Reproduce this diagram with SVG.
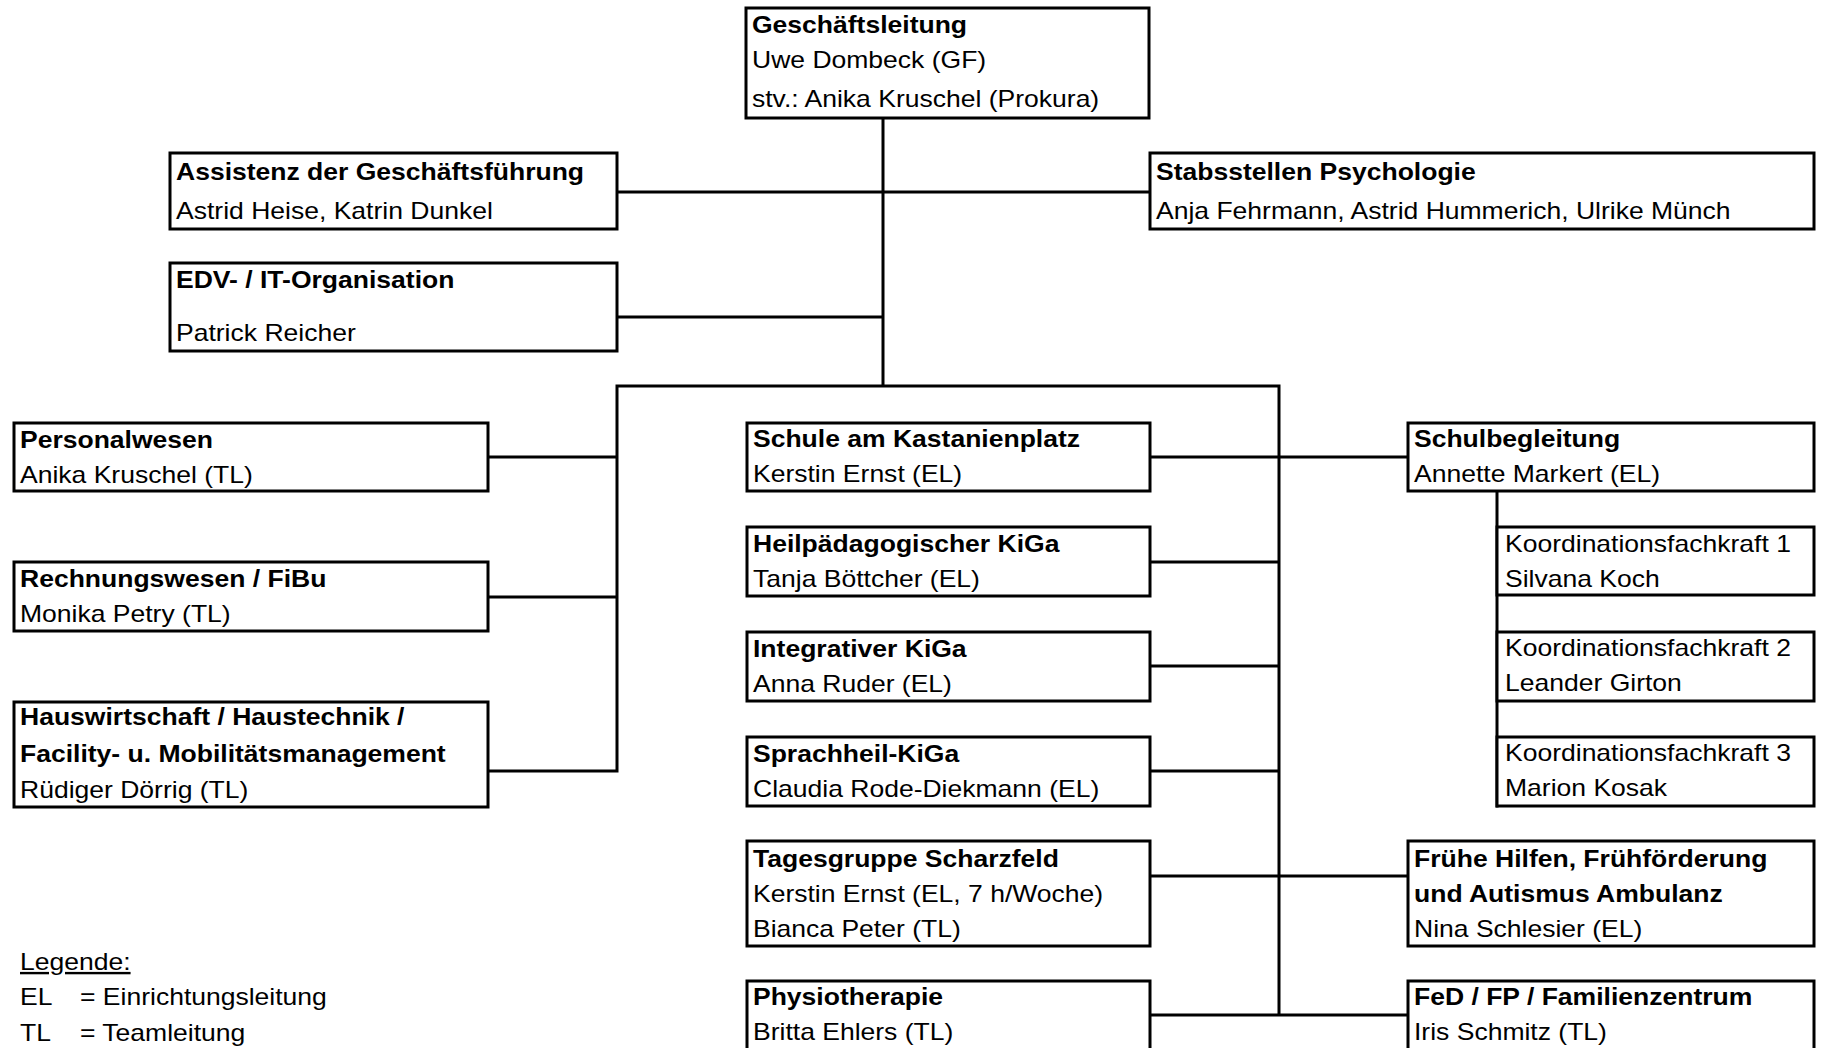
<svg xmlns="http://www.w3.org/2000/svg" width="1823" height="1048" viewBox="0 0 1823 1048">
<style>
.box{fill:#fff;stroke:#000;stroke-width:3}
.ln{stroke:#000;stroke-width:3;fill:none;stroke-linecap:square}
text{font-family:"Liberation Sans",Arial,sans-serif;font-size:24px;fill:#000}
.b{font-weight:bold}
.u{text-decoration:underline}
</style>
<rect width="1823" height="1048" fill="#fff"/>
<g id="connectors">
<path class="ln" d="M883 118V386M617 192H1150M617 317H883M617 386H1279M617 386V771M488 457H617M488 597H617M488 771H617M1279 386V1015M1150 457H1408M1150 562H1279M1150 666H1279M1150 771H1279M1150 876H1408M1150 1015H1408M1497 491V806"/>
</g>
<g id="n-gl"><rect class="box" x="746" y="8" width="403" height="110"/>
<text class="b" transform="matrix(1.105 0 0 1 752 33)">Geschäftsleitung</text>
<text transform="matrix(1.105 0 0 1 752 68)">Uwe Dombeck (GF)</text>
<text transform="matrix(1.105 0 0 1 752 107)">stv.: Anika Kruschel (Prokura)</text></g>
<g id="n-assist"><rect class="box" x="170" y="153" width="447" height="76"/>
<text class="b" transform="matrix(1.105 0 0 1 176 180)">Assistenz der Geschäftsführung</text>
<text transform="matrix(1.105 0 0 1 176 219)">Astrid Heise, Katrin Dunkel</text></g>
<g id="n-stabs"><rect class="box" x="1150" y="153" width="664" height="76"/>
<text class="b" transform="matrix(1.105 0 0 1 1156 180)">Stabsstellen Psychologie</text>
<text transform="matrix(1.105 0 0 1 1156 219)">Anja Fehrmann, Astrid Hummerich, Ulrike Münch</text></g>
<g id="n-edv"><rect class="box" x="170" y="263" width="447" height="88"/>
<text class="b" transform="matrix(1.105 0 0 1 176 288)">EDV- / IT-Organisation</text>
<text transform="matrix(1.105 0 0 1 176 341)">Patrick Reicher</text></g>
<g id="n-personal"><rect class="box" x="14" y="423" width="474" height="68"/>
<text class="b" transform="matrix(1.105 0 0 1 20 448)">Personalwesen</text>
<text transform="matrix(1.105 0 0 1 20 483)">Anika Kruschel (TL)</text></g>
<g id="n-rechnung"><rect class="box" x="14" y="562" width="474" height="69"/>
<text class="b" transform="matrix(1.105 0 0 1 20 587)">Rechnungswesen / FiBu</text>
<text transform="matrix(1.105 0 0 1 20 622)">Monika Petry (TL)</text></g>
<g id="n-haus"><rect class="box" x="14" y="702" width="474" height="105"/>
<text class="b" transform="matrix(1.105 0 0 1 20 725)">Hauswirtschaft / Haustechnik /</text>
<text class="b" transform="matrix(1.105 0 0 1 20 762)">Facility- u. Mobilitätsmanagement</text>
<text transform="matrix(1.105 0 0 1 20 798)">Rüdiger Dörrig (TL)</text></g>
<g id="n-schule"><rect class="box" x="747" y="423" width="403" height="68"/>
<text class="b" transform="matrix(1.105 0 0 1 753 447)">Schule am Kastanienplatz</text>
<text transform="matrix(1.105 0 0 1 753 482)">Kerstin Ernst (EL)</text></g>
<g id="n-heil"><rect class="box" x="747" y="527" width="403" height="69"/>
<text class="b" transform="matrix(1.105 0 0 1 753 552)">Heilpädagogischer KiGa</text>
<text transform="matrix(1.105 0 0 1 753 587)">Tanja Böttcher (EL)</text></g>
<g id="n-integ"><rect class="box" x="747" y="632" width="403" height="69"/>
<text class="b" transform="matrix(1.105 0 0 1 753 657)">Integrativer KiGa</text>
<text transform="matrix(1.105 0 0 1 753 692)">Anna Ruder (EL)</text></g>
<g id="n-sprach"><rect class="box" x="747" y="737" width="403" height="69"/>
<text class="b" transform="matrix(1.105 0 0 1 753 762)">Sprachheil-KiGa</text>
<text transform="matrix(1.105 0 0 1 753 797)">Claudia Rode-Diekmann (EL)</text></g>
<g id="n-tages"><rect class="box" x="747" y="841" width="403" height="105"/>
<text class="b" transform="matrix(1.105 0 0 1 753 867)">Tagesgruppe Scharzfeld</text>
<text transform="matrix(1.105 0 0 1 753 902)">Kerstin Ernst (EL, 7 h/Woche)</text>
<text transform="matrix(1.105 0 0 1 753 937)">Bianca Peter (TL)</text></g>
<g id="n-physio"><rect class="box" x="747" y="981" width="403" height="100"/>
<text class="b" transform="matrix(1.105 0 0 1 753 1005)">Physiotherapie</text>
<text transform="matrix(1.105 0 0 1 753 1040)">Britta Ehlers (TL)</text></g>
<g id="n-schulbegl"><rect class="box" x="1408" y="423" width="406" height="68"/>
<text class="b" transform="matrix(1.105 0 0 1 1414 447)">Schulbegleitung</text>
<text transform="matrix(1.105 0 0 1 1414 482)">Annette Markert (EL)</text></g>
<g id="n-koord1"><rect class="box" x="1497" y="527" width="317" height="68"/>
<text transform="matrix(1.105 0 0 1 1505 552)">Koordinationsfachkraft 1</text>
<text transform="matrix(1.105 0 0 1 1505 587)">Silvana Koch</text></g>
<g id="n-koord2"><rect class="box" x="1497" y="632" width="317" height="69"/>
<text transform="matrix(1.105 0 0 1 1505 656)">Koordinationsfachkraft 2</text>
<text transform="matrix(1.105 0 0 1 1505 691)">Leander Girton</text></g>
<g id="n-koord3"><rect class="box" x="1497" y="737" width="317" height="69"/>
<text transform="matrix(1.105 0 0 1 1505 761)">Koordinationsfachkraft 3</text>
<text transform="matrix(1.105 0 0 1 1505 796)">Marion Kosak</text></g>
<g id="n-fruehe"><rect class="box" x="1408" y="841" width="406" height="105"/>
<text class="b" transform="matrix(1.105 0 0 1 1414 867)">Frühe Hilfen, Frühförderung</text>
<text class="b" transform="matrix(1.105 0 0 1 1414 902)">und Autismus Ambulanz</text>
<text transform="matrix(1.105 0 0 1 1414 937)">Nina Schlesier (EL)</text></g>
<g id="n-fed"><rect class="box" x="1408" y="981" width="406" height="100"/>
<text class="b" transform="matrix(1.105 0 0 1 1414 1005)">FeD / FP / Familienzentrum</text>
<text transform="matrix(1.105 0 0 1 1414 1040)">Iris Schmitz (TL)</text></g>
<g id="legend">
<text class="u" transform="matrix(1.105 0 0 1 20 970)">Legende:</text>
<text transform="matrix(1.105 0 0 1 20 1005)">EL</text>
<text transform="matrix(1.105 0 0 1 80 1005)">= Einrichtungsleitung</text>
<text transform="matrix(1.105 0 0 1 20 1041)">TL</text>
<text transform="matrix(1.105 0 0 1 80 1041)">= Teamleitung</text>
</g>
</svg>
